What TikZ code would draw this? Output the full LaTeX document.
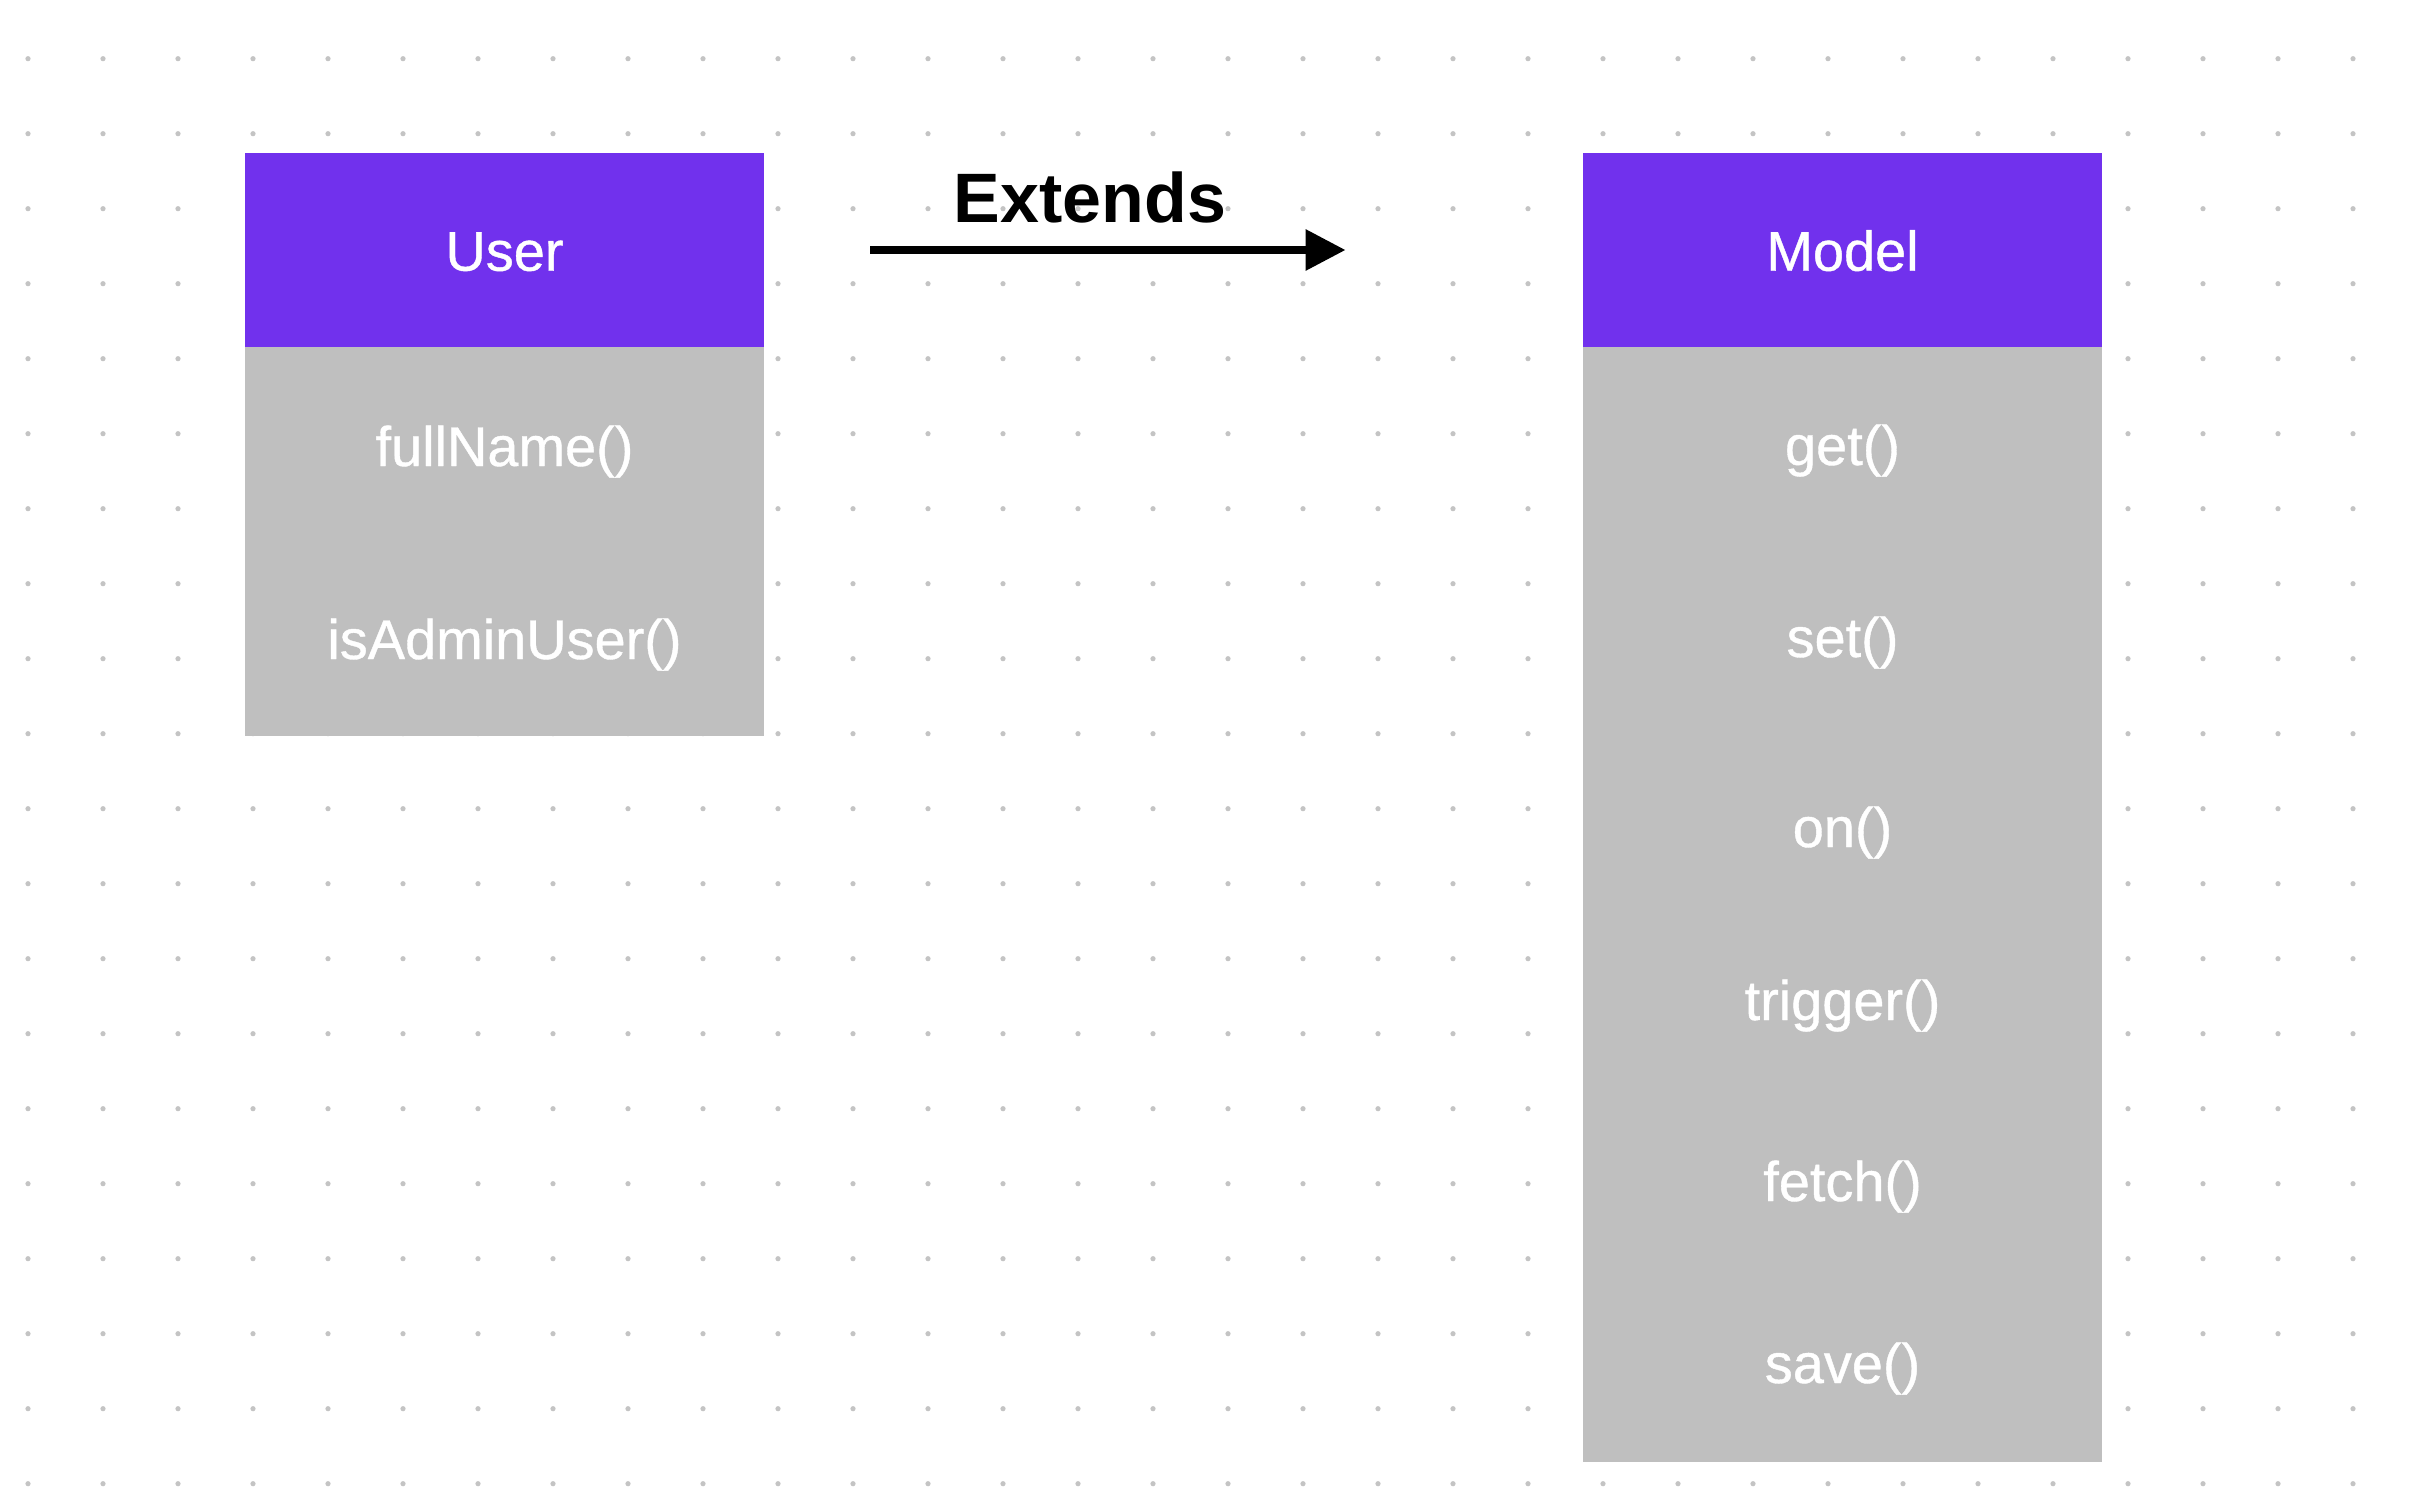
\documentclass[tikz,border=0pt]{standalone}
\usepackage{fontspec}
\setmainfont{Liberation Sans}
\newfontfamily\lblfont{Liberation Sans}[FakeBold=0.7]
\usetikzlibrary{arrows.meta}
\definecolor{hdr}{HTML}{7131ED}
\definecolor{bodygray}{HTML}{BFBFBF}
\definecolor{dotgray}{HTML}{C4C4C4}
\tikzset{
  hdrbox/.style={rectangle, fill=hdr, draw=none, inner sep=0pt, outer sep=0pt, minimum width=5.19cm, minimum height=1.94cm},
  bodybox/.style={rectangle, fill=bodygray, draw=none, inner sep=0pt, outer sep=0pt, minimum width=5.19cm},
  lbl/.style={text=white, anchor=base, inner sep=0pt, font=\lblfont\fontsize{15.9pt}{18pt}\selectfont},
  extlbl/.style={text=black, anchor=base, inner sep=0pt, font=\bfseries\fontsize{19.9pt}{23pt}\selectfont},
  conn/.style={line width=0.087cm, -{Triangle[length=0.40cm,width=0.39cm]}},
  griddot/.style={fill=dotgray}
}
\begin{document}
\begin{tikzpicture}[x=0.01cm,y=-0.01cm]
\useasboundingbox (0,0) rectangle (2420,1488);
\fill[white] (0,0) rectangle (2420,1488);
% dot grid
\foreach \i in {0,...,31}{
  \foreach \j in {0,...,19}{
    \fill[griddot] ({28+75*\i},{58.7+75*\j}) circle[radius=0.026cm];
  }
}
% User class
\node[hdrbox] (uH) at (504.5,250) {};
\node[bodybox, minimum height=3.89cm] (uB) at (504.5,541.5) {};
\node[lbl] (uT) at (504.5,270.7) {User};
\node[lbl] (u1) at (504.5,466) {fullName()};
\node[lbl] (u2) at (504.5,659) {isAdminUser()};
% Model class
\node[hdrbox] (mH) at (1842.5,250) {};
\node[bodybox, minimum height=11.15cm] (mB) at (1842.5,904.5) {};
\node[lbl] (mT) at (1842.5,270.7) {Model};
\node[lbl] (m1) at (1842.5,465) {get()};
\node[lbl] (m2) at (1842.5,657) {set()};
\node[lbl] (m3) at (1842.5,847) {on()};
\node[lbl] (m4) at (1842.5,1020) {trigger()};
\node[lbl] (m5) at (1842.5,1201) {fetch()};
\node[lbl] (m6) at (1842.5,1383) {save()};
% relation
\node[extlbl] (ext) at (1089.8,222.3) {Extends};
\draw[conn] ([xshift=1.06cm]uH.east) -- ([xshift=-2.37cm]mH.west);
\end{tikzpicture}
\end{document}
